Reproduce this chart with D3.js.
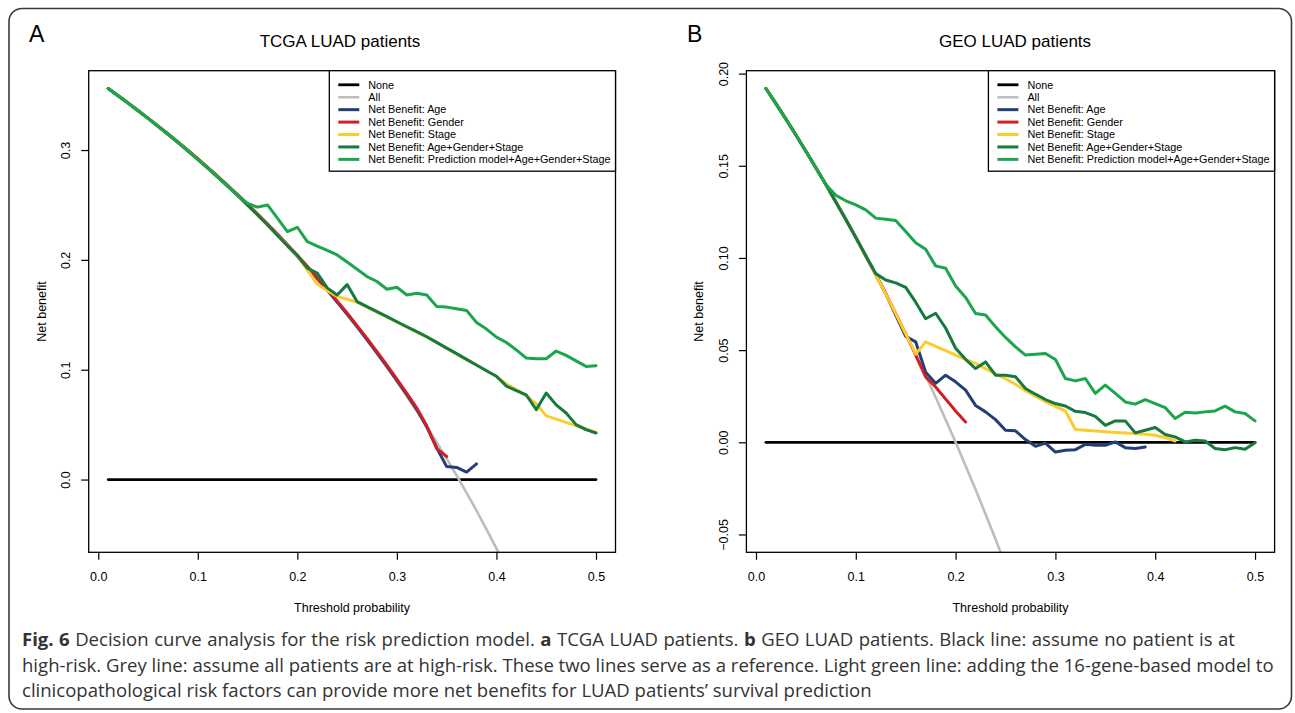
<!DOCTYPE html>
<html>
<head>
<meta charset="utf-8">
<script src="https://cdn.jsdelivr.net/npm/d3@7"></script>
<style>
  html, body { margin: 0; padding: 0; background: #fff; }
  svg { display: block; }
</style>
</head>
<body>
<svg id="fig" width="1295" height="713"></svg>
<script>
// ---- Decision curve data: net benefit at each threshold probability ----
const thresholds = [0.01,0.02,0.03,0.04,0.05,0.06,0.07,0.08,0.09,0.10,
  0.11,0.12,0.13,0.14,0.15,0.16,0.17,0.18,0.19,0.20,
  0.21,0.22,0.23,0.24,0.25,0.26,0.27,0.28,0.29,0.30,
  0.31,0.32,0.33,0.34,0.35,0.36,0.37,0.38,0.39,0.40,
  0.41,0.42,0.43,0.44,0.45,0.46,0.47,0.48,0.49,0.50];

// "None": treat nobody
const noneNB = [0,0,0,0,0,0,0,0,0,0, 0,0,0,0,0,0,0,0,0,0, 0,0,0,0,0,0,0,0,0,0,
  0,0,0,0,0,0,0,0,0,0, 0,0,0,0,0,0,0,0,0,0];

// TCGA LUAD cohort
const tcgaAll = [0.3560,0.3494,0.3427,0.3358,0.3288,0.3217,0.3144,0.3070,0.2993,0.2916,
  0.2836,0.2754,0.2671,0.2586,0.2499,0.2410,0.2318,0.2224,0.2128,0.2030,
  0.1929,0.1826,0.1720,0.1611,0.1499,0.1384,0.1266,0.1144,0.1020,0.0891,
  0.0759,0.0624,0.0484,0.0339,0.0191,0.0038,-0.0121,-0.0284,-0.0453,-0.0627,
  -0.0807,-0.0993,-0.1186,-0.1386,-0.1593,-0.1807,-0.2030,-0.2262,-0.2502,-0.2752];
const tcgaAge = [0.3560,0.3494,0.3427,0.3359,0.3289,0.3218,0.3145,0.3071,0.2995,0.2918,
  0.2838,0.2757,0.2674,0.2589,0.2502,0.2413,0.2322,0.2228,0.2132,0.2034,
  0.1934,0.1831,0.1726,0.1617,0.1506,0.1392,0.1275,0.1154,0.1031,0.0903,
  0.0772,0.0637,0.0478,0.0290,0.0118,0.0110,0.0068,0.0142];
const tcgaGender = [0.3560,0.3494,0.3428,0.3360,0.3291,0.3220,0.3148,0.3074,0.2998,0.2921,
  0.2842,0.2761,0.2678,0.2594,0.2507,0.2419,0.2328,0.2235,0.2140,0.2042,
  0.1942,0.1840,0.1735,0.1627,0.1516,0.1402,0.1285,0.1165,0.1042,0.0915,
  0.0785,0.0651,0.0490,0.0282,0.0210];
const tcgaStage = [0.3560,0.3494,0.3427,0.3358,0.3288,0.3217,0.3144,0.3070,0.2993,0.2916,
  0.2836,0.2754,0.2671,0.2586,0.2499,0.2410,0.2318,0.2224,0.2128,0.2035,
  0.1910,0.1780,0.1720,0.1668,0.1642,0.1615,0.1570,0.1525,0.1480,0.1434,
  0.1388,0.1343,0.1297,0.1246,0.1195,0.1143,0.1092,0.1040,0.0990,0.0938,
  0.0870,0.0820,0.0760,0.0690,0.0580,0.0550,0.0520,0.0490,0.0460,0.0430];
const tcgaAGS = [0.3560,0.3494,0.3427,0.3358,0.3288,0.3217,0.3144,0.3070,0.2993,0.2916,
  0.2836,0.2754,0.2671,0.2586,0.2499,0.2410,0.2318,0.2224,0.2128,0.2040,
  0.1925,0.1880,0.1745,0.1680,0.1775,0.1620,0.1574,0.1529,0.1483,0.1437,
  0.1391,0.1346,0.1300,0.1249,0.1197,0.1146,0.1094,0.1043,0.0991,0.0940,
  0.0850,0.0810,0.0770,0.0636,0.0788,0.0680,0.0606,0.0500,0.0455,0.0424];
const tcgaModel = [0.3560,0.3494,0.3427,0.3358,0.3288,0.3217,0.3144,0.3070,0.2993,0.2916,
  0.2836,0.2754,0.2671,0.2586,0.2515,0.2480,0.2500,0.2380,0.2258,0.2297,
  0.2167,0.2126,0.2086,0.2045,0.1980,0.1915,0.1848,0.1803,0.1733,0.1751,
  0.1680,0.1697,0.1680,0.1576,0.1570,0.1555,0.1540,0.1430,0.1370,0.1297,
  0.1248,0.1180,0.1106,0.1100,0.1100,0.1170,0.1130,0.1080,0.1030,0.1036];

// GEO LUAD cohort
const geoAll = [0.1919,0.1837,0.1753,0.1667,0.1579,0.1489,0.1398,0.1304,0.1209,0.1111,
  0.1011,0.0909,0.0805,0.0698,0.0588,0.0476,0.0361,0.0244,0.0123,0.0000,
  -0.0127,-0.0256,-0.0390,-0.0526,-0.0667,-0.0811,-0.0959,-0.1111,-0.1268,-0.1429,
  -0.1594,-0.1765,-0.1940,-0.2121,-0.2308,-0.2500,-0.2698,-0.2903,-0.3115,-0.3333,
  -0.3559,-0.3793,-0.4035,-0.4286,-0.4545,-0.4815,-0.5094,-0.5385,-0.5686,-0.6000];
const geoAge = [0.1919,0.1837,0.1753,0.1667,0.1579,0.1489,0.1398,0.1305,0.1210,0.1113,
  0.1013,0.0912,0.0808,0.0690,0.0575,0.0545,0.0380,0.0320,0.0364,0.0328,
  0.0283,0.0200,0.0165,0.0123,0.0065,0.0062,0.0015,-0.0022,-0.0004,-0.0053,
  -0.0043,-0.0040,-0.0011,-0.0016,-0.0016,0.0002,-0.0029,-0.0034,-0.0025];
const geoGender = [0.1919,0.1837,0.1753,0.1667,0.1579,0.1489,0.1398,0.1304,0.1209,0.1111,
  0.1011,0.0909,0.0805,0.0698,0.0588,0.0473,0.0355,0.0300,0.0235,0.0170,
  0.0110];
const geoStage = [0.1919,0.1837,0.1753,0.1667,0.1579,0.1489,0.1398,0.1304,0.1209,0.1111,
  0.1011,0.0909,0.0805,0.0698,0.0588,0.0478,0.0545,0.0520,0.0497,0.0473,
  0.0450,0.0428,0.0400,0.0370,0.0345,0.0315,0.0280,0.0250,0.0220,0.0195,
  0.0170,0.0069,0.0065,0.0061,0.0057,0.0053,0.0050,0.0047,0.0043,0.0038,
  0.0025,0.0007];
const geoAGS = [0.1919,0.1837,0.1753,0.1667,0.1579,0.1489,0.1398,0.1304,0.1209,0.1111,
  0.1011,0.0915,0.0880,0.0865,0.0840,0.0760,0.0670,0.0700,0.0620,0.0510,
  0.0450,0.0400,0.0436,0.0364,0.0364,0.0355,0.0292,0.0261,0.0232,0.0210,
  0.0197,0.0168,0.0161,0.0141,0.0092,0.0116,0.0116,0.0051,0.0065,0.0080,
  0.0042,0.0029,0.0002,0.0011,0.0007,-0.0034,-0.0040,-0.0029,-0.0038,-0.0002];
const geoModel = [0.1919,0.1837,0.1753,0.1667,0.1579,0.1489,0.1398,0.1340,0.1310,0.1288,
  0.1261,0.1216,0.1210,0.1203,0.1143,0.1083,0.1047,0.0957,0.0944,0.0848,
  0.0786,0.0699,0.0690,0.0627,0.0569,0.0518,0.0473,0.0478,0.0482,0.0449,
  0.0346,0.0333,0.0346,0.0265,0.0310,0.0265,0.0219,0.0207,0.0232,0.0210,
  0.0188,0.0129,0.0163,0.0159,0.0165,0.0170,0.0196,0.0165,0.0156,0.0116];

// Legend entries (drawing order)
const seriesNames = ["None", "All", "Net Benefit: Age", "Net Benefit: Gender",
  "Net Benefit: Stage", "Net Benefit: Age+Gender+Stage",
  "Net Benefit: Prediction model+Age+Gender+Stage"];

// Axis ticks
const xTicks = [0, 0.1, 0.2, 0.3, 0.4, 0.5];
const xTickLabels = ["0.0", "0.1", "0.2", "0.3", "0.4", "0.5"];
const tcgaYTicks = [0, 0.1, 0.2, 0.3];
const tcgaYTickLabels = ["0.0", "0.1", "0.2", "0.3"];
const geoYTicks = [-0.05, 0, 0.05, 0.10, 0.15, 0.20];
const geoYTickLabels = ["\u22120.05", "0.00", "0.05", "0.10", "0.15", "0.20"];

// Caption text
const captionLines = [
  [{t: "Fig. 6", b: true}, {t: " Decision curve analysis for the risk prediction model. "},
   {t: "a", b: true}, {t: " TCGA LUAD patients. "}, {t: "b", b: true},
   {t: " GEO LUAD patients. Black line: assume no patient is at"}],
  [{t: "high-risk. Grey line: assume all patients are at high-risk. These two lines serve as a reference. Light green line: adding the 16-gene-based model to"}],
  [{t: "clinicopathological risk factors can provide more net benefits for LUAD patients\u2019 survival prediction"}]
];

// ---- Styling ----
const lineStyle = [
  {color: "#000000", width: 2.8},
  {color: "#bdbdbd", width: 2.6},
  {color: "#253e75", width: 3},
  {color: "#d11f26", width: 3},
  {color: "#fdcb2a", width: 3},
  {color: "#157a3f", width: 3},
  {color: "#1ca64c", width: 3}
];
const plotFont = "'Liberation Sans', Arial, Helvetica, sans-serif";

const svg = d3.select("#fig");
svg.append("rect").attr("width", 1295).attr("height", 713).attr("fill", "#fff");

// Rounded frame around the whole figure
svg.append("rect")
  .attr("x", 9).attr("y", 8.5).attr("width", 1282.5).attr("height", 700.5)
  .attr("rx", 13).attr("ry", 13)
  .attr("fill", "none").attr("stroke", "#3a3a3a").attr("stroke-width", 1.6);

const panels = [
  {id: "tcga", letter: "A", letterX: 29, title: "TCGA LUAD patients", titleX: 340,
   left: 88.7, right: 615.5, top: 70.7, bottom: 552.3,
   yTicks: tcgaYTicks, yTickLabels: tcgaYTickLabels,
   series: [noneNB, tcgaAll, tcgaAge, tcgaGender, tcgaStage, tcgaAGS, tcgaModel]},
  {id: "geo", letter: "B", letterX: 687, title: "GEO LUAD patients", titleX: 1015,
   left: 746.4, right: 1274.6, top: 70.7, bottom: 552.3,
   yTicks: geoYTicks, yTickLabels: geoYTickLabels,
   series: [noneNB, geoAll, geoAge, geoGender, geoStage, geoAGS, geoModel]}
];

// R-style axis limits: data range padded by 4% on each side
function padded(lo, hi) {
  const d = (hi - lo) * 0.04;
  return [lo - d, hi + d];
}

panels.forEach(p => {
  const g = svg.append("g").attr("font-family", plotFont);

  const x = d3.scaleLinear()
    .domain(padded(d3.min(thresholds), d3.max(thresholds)))
    .range([p.left, p.right]);
  const y = d3.scaleLinear()
    .domain(padded(-0.05, d3.max(p.series[1])))
    .range([p.bottom, p.top]);

  // clip region = plotting box
  g.append("clipPath").attr("id", "clip-" + p.id)
    .append("rect")
    .attr("x", p.left).attr("y", p.top)
    .attr("width", p.right - p.left).attr("height", p.bottom - p.top);

  const line = d3.line()
    .x((d, i) => x(thresholds[i]))
    .y(d => y(d));

  const curves = g.append("g").attr("clip-path", `url(#clip-${p.id})`);
  p.series.forEach((vals, k) => {
    curves.append("path")
      .datum(vals)
      .attr("d", line)
      .attr("fill", "none")
      .attr("stroke", lineStyle[k].color)
      .attr("stroke-width", lineStyle[k].width)
      .attr("stroke-linejoin", "round")
      .attr("stroke-linecap", "round");
  });

  // x axis
  const xa = g.append("g")
    .attr("transform", `translate(0,${p.bottom})`)
    .call(d3.axisBottom(x).tickValues(xTicks)
      .tickFormat((d, i) => xTickLabels[i])
      .tickSize(7.5).tickSizeOuter(0).tickPadding(12));
  xa.select(".domain").remove();
  xa.selectAll(".tick line").attr("stroke", "#000").attr("stroke-width", 1.2);
  xa.selectAll(".tick text")
    .attr("fill", "#000").attr("font-size", 12.5).attr("font-family", plotFont);

  // y axis, labels parallel to the axis
  const ya = g.append("g")
    .attr("transform", `translate(${p.left},0)`)
    .call(d3.axisLeft(y).tickValues(p.yTicks)
      .tickFormat((d, i) => p.yTickLabels[i])
      .tickSize(7.5).tickSizeOuter(0));
  ya.select(".domain").remove();
  ya.selectAll(".tick line").attr("stroke", "#000").attr("stroke-width", 1.2);
  ya.selectAll(".tick text")
    .attr("x", null).attr("dy", null)
    .attr("text-anchor", "middle")
    .attr("transform", "translate(-18.5,0) rotate(-90)")
    .attr("fill", "#000").attr("font-size", 12.5).attr("font-family", plotFont);

  // plotting box
  g.append("rect")
    .attr("x", p.left).attr("y", p.top)
    .attr("width", p.right - p.left).attr("height", p.bottom - p.top)
    .attr("fill", "none").attr("stroke", "#000").attr("stroke-width", 1.3);

  // axis titles
  g.append("text")
    .attr("x", (p.left + p.right) / 2).attr("y", p.bottom + 59.5)
    .attr("text-anchor", "middle").attr("font-size", 12.5)
    .text("Threshold probability");
  g.append("text")
    .attr("transform", `translate(${p.left - 43},${(p.top + p.bottom) / 2}) rotate(-90)`)
    .attr("text-anchor", "middle").attr("font-size", 12.5)
    .text("Net benefit");

  // panel title and letter
  g.append("text")
    .attr("x", p.titleX).attr("y", 47)
    .attr("text-anchor", "middle").attr("font-size", 17)
    .text(p.title);
  g.append("text")
    .attr("x", p.letterX).attr("y", 41.7)
    .attr("font-size", 23)
    .text(p.letter);

  // legend, anchored to the top-right corner of the box
  const lg = g.append("g");
  const rowH = 12.43, firstRow = 14.1;
  const texts = seriesNames.map((name, k) =>
    lg.append("text")
      .attr("y", p.top + firstRow + k * rowH)
      .attr("dy", "0.35em")
      .attr("font-size", 10.8)
      .text(name));
  const maxW = d3.max(texts, t => t.node().getComputedTextLength());
  const boxW = maxW + 39 + 5;
  const lx = p.right - boxW;
  lg.insert("rect", ":first-child")
    .attr("x", lx).attr("y", p.top)
    .attr("width", boxW).attr("height", 100.5)
    .attr("fill", "#fff").attr("stroke", "#000").attr("stroke-width", 1.3);
  texts.forEach(t => t.attr("x", lx + 39));
  seriesNames.forEach((name, k) => {
    lg.append("line")
      .attr("x1", lx + 9).attr("x2", lx + 30)
      .attr("y1", p.top + firstRow + k * rowH)
      .attr("y2", p.top + firstRow + k * rowH)
      .attr("stroke", lineStyle[k].color)
      .attr("stroke-width", lineStyle[k].width);
  });
});

// ---- Caption ----
const cap = svg.append("g")
  .attr("font-family", "'Open Sans', 'Noto Sans', sans-serif")
  .attr("fill", "#333");
const captionBaselines = [646, 671.5, 697];
const capTexts = captionLines.map((segs, i) => {
  const t = cap.append("text").attr("x", 22).attr("y", captionBaselines[i]).attr("font-size", 16);
  segs.forEach(s => t.append("tspan").attr("font-weight", s.b ? 700 : 400).text(s.t));
  return t;
});
// size the caption so the second (full) line spans the frame width
const w2 = capTexts[1].node().getComputedTextLength();
const capSize = 16 * (1274 - 22) / w2;
capTexts.forEach(t => t.attr("font-size", capSize));
// first line is justified a little wider, ending at x = 1235
const w1 = capTexts[0].node().getComputedTextLength();
const gaps1 = captionLines[0].map(s => s.t).join("").split(" ").length - 1;
capTexts[0].attr("word-spacing", Math.max(0, (1235 - 22 - w1) / gaps1));
</script>
</body>
</html>
